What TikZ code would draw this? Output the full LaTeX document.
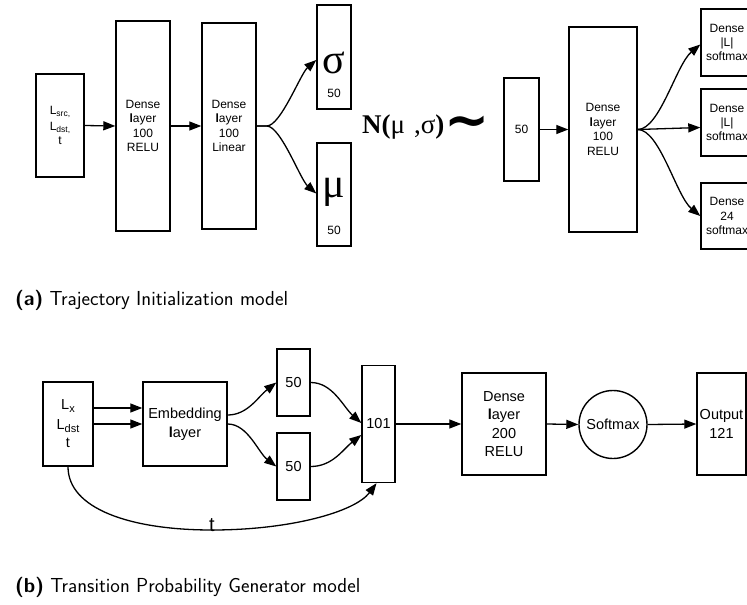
\documentclass[tikz,border=0pt]{standalone}
\usepackage{fontspec}
\setmainfont{Liberation Sans}
\newfontfamily\grkfont{Liberation Serif}
\newfontfamily\tildefont{DejaVu Sans}
\usetikzlibrary{arrows.meta}

% subscripted location labels
\newcommand\locsub[2]{L\raisebox{-0.35ex}{\fontsize{#2}{#2}\selectfont #1}}

\tikzset{
  x=1pt, y=-1pt,
  layer/.style={draw, line width=1.4pt, inner sep=1pt, align=center},
  topfont/.style={font=\fontsize{12}{14.4}\selectfont},
  botfont/.style={font=\fontsize{14.5}{18.5}\selectfont},
  arr/.style={line width=1.3pt, -{Triangle[length=12pt, width=9pt]}},
  caption/.style={anchor=west, inner sep=0pt, font=\sffamily\fontsize{20.3}{22}\selectfont},
}

\begin{document}
\begin{tikzpicture}
\useasboundingbox (0,0) rectangle (747,605);
\clip (0,0) rectangle (747,605);

% ---------------- (a) trajectory initialization ----------------
\node[layer, topfont, minimum width=48, minimum height=103] (in1) at (60,125.5)
  {\locsub{src,}{8.5}\\[1pt]\locsub{dst,}{8.5}\\t};
\node[layer, topfont, minimum width=54, minimum height=210] (d1) at (143,126)
  {Dense\\\textbf{l}ayer\\100\\RELU};
\node[layer, topfont, minimum width=54, minimum height=206] (d2) at (229,126)
  {Dense\\\textbf{l}ayer\\100\\Linear};

\node[layer, minimum width=34, minimum height=104] (sig) at (334,57) {};
\node[inner sep=0pt, font=\grkfont\fontsize{42}{42}\selectfont] (sigsym) at (334,63) {σ};
\node[inner sep=0pt, topfont] (sign) at (334,93) {50};

\node[layer, minimum width=34, minimum height=103] (mu) at (334,194.5) {};
\node[inner sep=0pt, font=\grkfont\fontsize{42}{42}\selectfont] (musym) at (334,192) {μ};
\node[inner sep=0pt, topfont] (mun) at (334,230) {50};

\draw[arr] (d1.east) -- (d2.west);
\draw[arr] (in1.east) -- (d1.west);
\draw[arr] (d2.east) -- ++(10,0) .. controls +(14,0) and +(-16,14) .. ([yshift=-3pt]sig.west);
\draw[arr] (d2.east) -- ++(10,0) .. controls +(14,0) and +(-16,-14) .. ([yshift=1pt]mu.west);

\node[inner sep=0pt, anchor=west] (dist) at (362,127)
  {\grkfont\fontsize{27}{27}\selectfont\textbf{N(}μ\,\,,σ\textbf{)}\tildefont\bfseries\fontsize{54}{54}\selectfont\raisebox{-0.1em}{∼}};

\node[layer, topfont, minimum width=35, minimum height=103] (z) at (521.5,129.5) {50};
\node[layer, topfont, minimum width=68, minimum height=205] (d3) at (603,129.5)
  {Dense\\\textbf{l}ayer\\100\\RELU};
\draw[arr] (z.east) -- (d3.west);

\node[layer, topfont, minimum width=52, minimum height=67] (o1) at (727,42.5)
  {Dense\\|L|\\softmax};
\node[layer, topfont, minimum width=52, minimum height=67] (o2) at (727,122.5)
  {Dense\\|L|\\softmax};
\node[layer, topfont, minimum width=52, minimum height=66] (o3) at (727,216)
  {Dense\\24\\softmax};

\draw[arr] (d3.east) .. controls +(22,0) and +(-24,20) .. ([yshift=-2pt]o1.west);
\draw[arr] (d3.east) -- ([yshift=-5pt]o2.west);
\draw[arr] (d3.east) .. controls +(22,0) and +(-24,-20) .. (o3.west);

\node[caption] (capa) at (15,300) {\textbf{(a)} Trajectory Initialization model};

% ---------------- (b) transition probability generator ----------------
\node[layer, botfont, minimum width=50, minimum height=84] (in2) at (68,424)
  {\locsub{x}{11}\\[1pt]\locsub{dst}{11}\\t};
\node[layer, botfont, minimum width=84, minimum height=84] (emb) at (185,424)
  {Embedding\\\textbf{l}ayer};
\draw[arr] ([yshift=16pt]in2.east) -- ([yshift=16pt]emb.west);
\draw[arr] (in2.east) -- (emb.west);

\node[layer, botfont, minimum width=33, minimum height=67] (f1) at (293.5,382.5) {50};
\node[layer, botfont, minimum width=33, minimum height=67] (f2) at (293.5,466.5) {50};
\node[layer, botfont, minimum width=33, minimum height=117] (c101) at (378.5,424) {101};

\draw[arr] ([yshift=9pt]emb.east) .. controls +(20,0) and +(-18,14) .. (f1.west);
\draw[arr] (emb.east) .. controls +(20,0) and +(-18,-14) .. (f2.west);
\draw[arr] (f1.east) .. controls +(22,0) and +(-18,-16) .. ([yshift=1pt]c101.west);
\draw[arr] (f2.east) .. controls +(22,0) and +(-18,14) .. ([yshift=-11pt]c101.west);

% skip connection carrying t
\coordinate (tmid) at (212,530);
\node[inner sep=0pt, font=\fontsize{20}{20}\selectfont] (tlab) at (212,525.5) {t};
\draw[line width=1.3pt] (in2.south) .. controls +(0,42) and (130,530) .. (tmid);
\draw[arr] (tmid) .. controls (290,530) and (355,512) .. ([xshift=-2pt]c101.south);

\node[layer, botfont, minimum width=84, minimum height=102] (dd) at (504,424)
  {Dense\\\textbf{l}ayer\\200\\RELU};
\node[draw, circle, line width=1.4pt, botfont, minimum size=68, inner sep=0pt] (sm) at (613,424.5) {Softmax};
\node[layer, botfont, minimum width=49, minimum height=102, inner sep=0pt] (out) at (721.5,424)
  {Output\\121};

\draw[arr] (c101.east) -- (dd.west);
\draw[arr] (dd.east) -- (sm.west);
\draw[arr] (sm.east) -- (out.west);

\node[caption] (capb) at (15,587) {\textbf{(b)} Transition Probability Generator model};
\end{tikzpicture}
\end{document}
